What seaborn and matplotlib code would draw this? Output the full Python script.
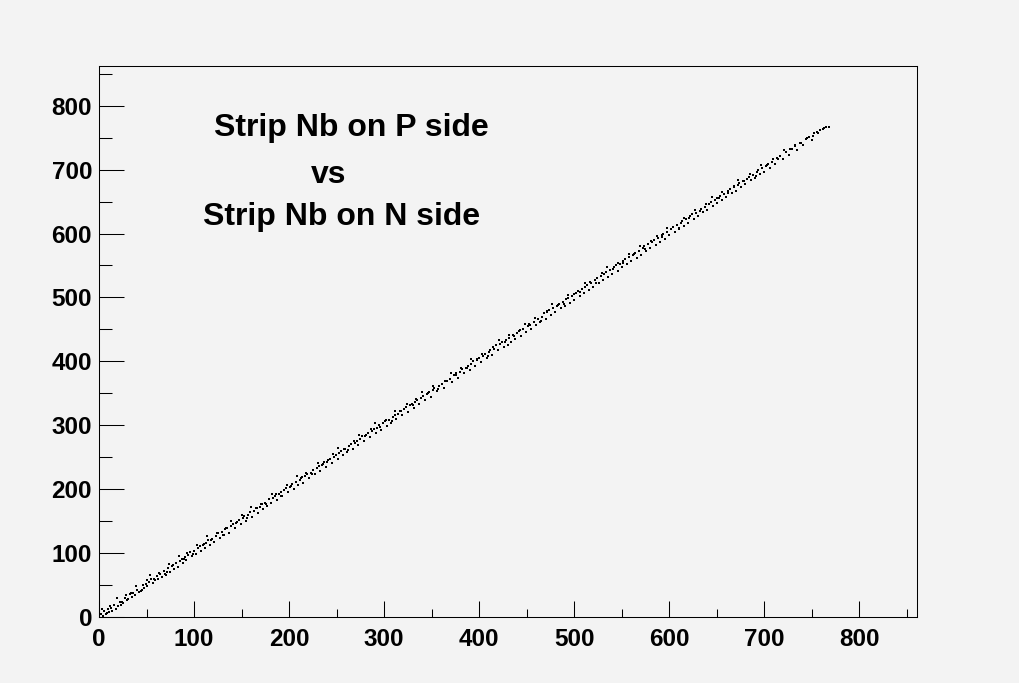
import matplotlib
matplotlib.use("Agg")
import matplotlib.pyplot as plt
import seaborn as sns
import pandas as pd
from matplotlib.ticker import MultipleLocator

# strip pairs (N side strip, P side strip)
strip_n = [2, 4, 5, 7, 9, 11, 13, 14, 16, 18, 20, 22, 23, 25, 27, 29, 31, 33, 35, 36,
           38, 40, 42, 44, 46, 47, 49, 51, 53, 55, 57, 59, 61, 62, 64, 66, 68, 70, 72, 73,
           75, 77, 79, 81, 83, 85, 87, 88, 90, 92, 94, 96, 98, 100, 102, 104, 106, 107, 109, 111,
           113, 115, 117, 119, 121, 123, 125, 127, 129, 131, 133, 135, 137, 139, 141, 143, 145, 147, 149, 151,
           153, 155, 157, 159, 161, 163, 165, 167, 169, 171, 173, 175, 177, 179, 181, 183, 185, 187, 189, 191,
           193, 195, 197, 199, 201, 203, 205, 207, 209, 211, 213, 215, 217, 219, 221, 223, 225, 227, 229, 231,
           233, 235, 237, 239, 241, 243, 245, 247, 249, 251, 253, 255, 257, 259, 261, 263, 265, 267, 269, 271,
           273, 275, 277, 279, 281, 283, 285, 287, 289, 291, 293, 295, 297, 299, 301, 303, 305, 307, 309, 311,
           313, 315, 317, 319, 321, 323, 325, 327, 329, 331, 333, 335, 337, 339, 341, 343, 345, 347, 349, 351,
           353, 356, 358, 361, 363, 366, 369, 372, 374, 376, 378, 380, 382, 384, 386, 388, 390, 392, 394, 396,
           398, 400, 402, 404, 406, 408, 410, 412, 414, 416, 418, 420, 422, 424, 426, 428, 430, 432, 434, 436,
           438, 440, 442, 444, 446, 449, 451, 453, 455, 458, 460, 462, 464, 466, 468, 470, 472, 474, 476, 478,
           480, 482, 484, 486, 488, 490, 492, 494, 496, 498, 500, 502, 504, 506, 508, 510, 512, 514, 516, 518,
           520, 522, 524, 526, 528, 530, 532, 534, 536, 538, 540, 542, 544, 546, 548, 550, 552, 554, 556, 558,
           560, 562, 564, 566, 568, 570, 572, 574, 576, 578, 580, 582, 584, 586, 588, 590, 592, 594, 596, 598,
           600, 602, 604, 606, 608, 610, 612, 614, 616, 618, 620, 622, 624, 626, 628, 630, 632, 634, 636, 638,
           640, 642, 644, 646, 648, 650, 652, 654, 656, 658, 660, 662, 664, 666, 668, 670, 672, 674, 676, 678,
           680, 682, 684, 686, 688, 690, 692, 694, 696, 698, 700, 702, 704, 706, 708, 711, 714, 717, 720, 723,
           726, 729, 732, 735, 738, 741, 744, 747, 750, 753, 756, 759, 762, 765, 768]
strip_p = [5, 1, 9, 4, 12, 8, 14, 10, 19, 13, 17, 24, 19, 22, 30, 26, 28, 36, 31, 38,
           34, 43, 39, 41, 50, 45, 52, 48, 55, 60, 53, 58, 64, 59, 67, 63, 72, 66, 70, 77,
           71, 80, 75, 84, 79, 88, 90, 85, 94, 89, 97, 102, 95, 104, 99, 108, 111, 103, 113, 108,
           116, 121, 113, 122, 118, 127, 131, 123, 133, 128, 137, 140, 132, 142, 146, 139, 149, 152, 145, 155,
           158, 151, 160, 164, 156, 166, 170, 163, 172, 177, 169, 179, 174, 184, 178, 186, 190, 183, 193, 196,
           190, 199, 202, 195, 204, 208, 201, 211, 206, 215, 218, 210, 221, 224, 217, 226, 230, 223, 233, 236,
           229, 238, 243, 235, 245, 248, 241, 250, 254, 247, 257, 260, 253, 263, 258, 267, 270, 263, 273, 276,
           269, 279, 283, 275, 285, 288, 281, 291, 294, 288, 296, 300, 293, 303, 306, 299, 309, 304, 313, 316,
           310, 318, 322, 316, 325, 328, 321, 331, 334, 327, 336, 340, 333, 343, 346, 340, 349, 352, 345, 355,
           358, 353, 362, 365, 359, 370, 372, 368, 378, 381, 374, 384, 388, 381, 390, 393, 387, 396, 400, 393,
           402, 405, 399, 408, 412, 405, 414, 417, 410, 420, 425, 417, 427, 430, 422, 433, 426, 436, 431, 441,
           435, 444, 448, 440, 451, 446, 455, 459, 451, 462, 457, 467, 461, 470, 475, 466, 477, 480, 473, 483,
           477, 487, 489, 483, 493, 487, 497, 499, 492, 503, 496, 507, 510, 502, 513, 507, 517, 520, 512, 523,
           517, 527, 530, 522, 533, 527, 537, 540, 532, 543, 537, 547, 550, 542, 553, 547, 557, 560, 552, 563,
           557, 567, 570, 562, 573, 567, 577, 580, 572, 583, 577, 587, 590, 582, 593, 587, 597, 600, 592, 603,
           597, 607, 610, 602, 613, 607, 617, 620, 612, 623, 617, 627, 630, 622, 632, 627, 636, 639, 633, 642,
           637, 646, 649, 643, 652, 647, 656, 659, 653, 662, 657, 666, 669, 663, 672, 667, 676, 679, 673, 682,
           677, 686, 689, 683, 692, 687, 696, 699, 693, 702, 697, 706, 709, 703, 712, 708, 718, 722, 716, 727,
           723, 733, 737, 731, 742, 738, 748, 751, 747, 757, 759, 762, 764, 766, 767]

# more scattered hits from the wider edges of the band
extra_n = [3, 8, 12, 19, 24, 28, 34, 39, 45, 50, 54, 58, 63, 69, 74, 78, 84, 89, 93, 99,
           103, 110, 114, 118, 124, 130, 134, 139, 144, 150, 156, 160, 166, 170, 176, 182, 186, 192, 198, 202,
           208, 214, 218, 224, 230, 236, 240, 246, 252, 258, 262, 268, 274, 280, 286, 290, 296, 302, 308, 312,
           318, 324, 330, 334, 340, 346, 352, 357, 364, 370, 376, 381, 387, 392, 398, 403, 409, 415, 421, 427,
           432, 437, 443, 448, 454, 459, 465, 471, 477, 483, 489, 494, 500, 506, 511, 517, 523, 529, 535, 541,
           546, 552, 558, 563, 569, 575, 581, 587, 592, 598, 604, 610, 616, 621, 627, 633, 639, 645, 650, 656,
           662, 668, 673, 679, 685, 691, 697, 703, 709, 715, 721, 727, 733, 739, 745, 751, 757, 763]
extra_p = [12, 6, 18, 30, 23, 35, 37, 49, 42, 58, 66, 59, 69, 67, 83, 82, 95, 91, 100, 98,
           113, 115, 127, 120, 132, 128, 140, 150, 147, 159, 155, 172, 170, 177, 177, 192, 192, 190, 207, 205,
           221, 219, 226, 223, 241, 240, 242, 255, 264, 263, 261, 275, 284, 283, 294, 303, 298, 308, 306, 323,
           323, 333, 331, 341, 352, 350, 362, 356, 370, 381, 379, 389, 389, 404, 403, 412, 408, 422, 434, 431,
           442, 439, 449, 459, 457, 468, 463, 479, 489, 488, 490, 504, 506, 509, 522, 524, 522, 538, 548, 545,
           554, 554, 568, 568, 581, 576, 588, 596, 595, 609, 610, 609, 624, 625, 637, 635, 646, 657, 655, 665,
           663, 674, 684, 682, 693, 690, 707, 707, 716, 717, 730, 732, 739, 742, 749, 753, 758, 765]

title_lines = ["Strip Nb on P side", "vs", "Strip Nb on N side"]

sns.set_style("white")
plt.rcParams["font.family"] = ["Liberation Sans", "DejaVu Sans"]
plt.rcParams["font.weight"] = "bold"
plt.rcParams["text.color"] = "black"
plt.rcParams["xtick.color"] = "black"
plt.rcParams["ytick.color"] = "black"

bg = "#f3f3f3"
fig = plt.figure(figsize=(10.2, 6.83), dpi=100, facecolor=bg)
ax = fig.add_axes([0.0971, 0.0966, 0.802, 0.8067])
ax.set_facecolor(bg)

df = pd.DataFrame({"n": strip_n + extra_n, "p": strip_p + extra_p})
sns.scatterplot(data=df, x="n", y="p", ax=ax, color="black", marker="s",
                s=2.5, linewidth=0, legend=False)

ax.set_xlim(0, 861)
ax.set_ylim(0, 862)
ax.set_xlabel("")
ax.set_ylabel("")

ax.xaxis.set_major_locator(MultipleLocator(100))
ax.xaxis.set_minor_locator(MultipleLocator(50))
ax.yaxis.set_major_locator(MultipleLocator(100))
ax.yaxis.set_minor_locator(MultipleLocator(50))

ax.tick_params(axis="both", which="both", direction="in", width=0.75, color="black",
               labelcolor="black", labelsize=17.5, bottom=True, left=True,
               top=False, right=False)
ax.tick_params(axis="x", which="major", length=11.5, pad=8)
ax.tick_params(axis="x", which="minor", length=5.8)
ax.tick_params(axis="y", which="major", length=18, pad=5)
ax.tick_params(axis="y", which="minor", length=9.4)
for lab in ax.get_xticklabels() + ax.get_yticklabels():
    lab.set_fontweight("bold")

for sp in ax.spines.values():
    sp.set_visible(True)
    sp.set_color("black")
    sp.set_linewidth(0.75)

ax.text(266, 765, title_lines[0], ha="center", va="center", fontsize=23,
        fontweight="bold", color="black")
ax.text(242, 692, title_lines[1], ha="center", va="center", fontsize=23,
        fontweight="bold", color="black")
ax.text(255, 626, title_lines[2], ha="center", va="center", fontsize=23,
        fontweight="bold", color="black")

fig.savefig("out.png", dpi=100, facecolor=bg)
